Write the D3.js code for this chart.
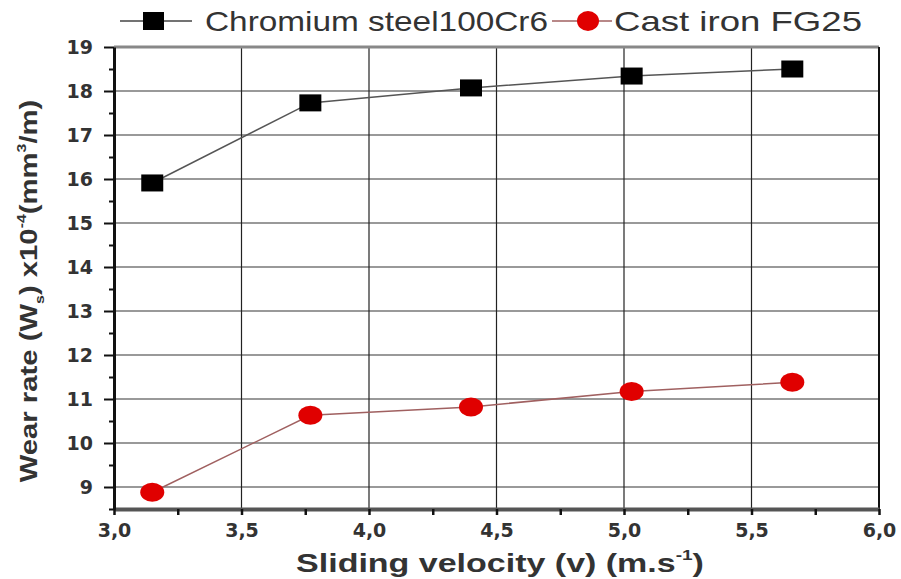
<!DOCTYPE html>
<meta charset="utf-8">
<head>
    <style>
        body {margin: 0; background: #fff;}
        text {font-family: Arial, "Liberation Sans", sans-serif; fill: #333;}
        .tick text {font-family: "DejaVu Sans", sans-serif; font-weight: bold; font-size: 19px; fill: #333;}
    </style>
    <script src="https://d3js.org/d3.v7.min.js"></script>
</head>
<body>
<script>

    var velocity = [3.15, 3.77, 4.40, 5.03, 5.66],
        chromium = [15.91, 17.73, 18.07, 18.34, 18.5],
        castIron = [8.88, 10.63, 10.82, 11.17, 11.38],
        xTicks = [3.0, 3.5, 4.0, 4.5, 5.0, 5.5, 6.0],
        yTicks = [9, 10, 11, 12, 13, 14, 15, 16, 17, 18, 19],
        seriesNames = ["Chromium steel100Cr6", "Cast iron FG25"];

    var margin = {top: 47, right: 22, bottom: 70, left: 114},
        width = 901 - margin.left - margin.right,
        height = 579 - margin.top - margin.bottom;

    var x = d3.scaleLinear().domain([3, 6]).range([0, width]);
    var y = d3.scaleLinear().domain([8.5, 19]).range([height, 0]);

    var root = d3.select("body").append("svg")
        .attr("width", 901)
        .attr("height", 579);

    var svg = root.append("g")
        .attr("transform", "translate(" + margin.left + "," + margin.top + ")");

    // grid
    svg.append("g")
        .selectAll("line").data(yTicks)
      .enter().append("line")
        .attr("x1", 0).attr("x2", width)
        .attr("y1", function(d) {return y(d)}).attr("y2", function(d) {return y(d)})
        .attr("stroke", "#999").attr("stroke-width", 1.8);

    svg.append("g")
        .selectAll("line").data(xTicks.slice(1, -1))
      .enter().append("line")
        .attr("y1", 0).attr("y2", height)
        .attr("x1", function(d) {return x(d)}).attr("x2", function(d) {return x(d)})
        .attr("stroke", "#222").attr("stroke-width", 1.2);

    // frame top/right
    svg.append("line").attr("x1", 0).attr("x2", width).attr("y1", 0).attr("y2", 0)
        .attr("stroke", "#888").attr("stroke-width", 3);
    svg.append("line").attr("x1", width).attr("x2", width).attr("y1", 0).attr("y2", height)
        .attr("stroke", "#111").attr("stroke-width", 2);

    // axes
    var fmt = function(d) {return d3.format(".1f")(d).replace(".", ",")};

    svg.append("g")
        .attr("transform", "translate(0," + height + ")")
        .call(d3.axisBottom(x).tickValues(d3.range(3, 6.01, 0.25)).tickSize(0).tickFormat(""))
        .call(function(g) {
            g.select(".domain").attr("stroke", "#555").attr("stroke-width", 4);
            g.selectAll(".tick line").attr("y2", 6)
                .attr("stroke", "#111").attr("stroke-width", 2.5);
        });
    svg.append("g")
        .attr("transform", "translate(0," + height + ")")
        .call(d3.axisBottom(x).tickValues(xTicks).tickSize(0).tickPadding(15).tickFormat(fmt))
        .call(function(g) {g.select(".domain").remove()});

    svg.append("g")
        .call(d3.axisLeft(y).tickValues(d3.range(8.5, 19.01, 0.5)).tickSize(0).tickFormat(""))
        .call(function(g) {
            g.select(".domain").attr("stroke", "#111").attr("stroke-width", 3);
            g.selectAll(".tick line").attr("x2", function(d) {return d % 1 == 0 ? -10 : -5})
                .attr("stroke", "#111").attr("stroke-width", 2);
        });
    svg.append("g")
        .call(d3.axisLeft(y).tickValues(yTicks).tickSize(0).tickPadding(21))
        .call(function(g) {g.select(".domain").remove()});

    // lines
    var line = d3.line()
        .x(function(d) {return x(d[0])})
        .y(function(d) {return y(d[1])});

    var chromPts = d3.zip(velocity, chromium),
        castPts = d3.zip(velocity, castIron);

    svg.append("path").datum(chromPts)
        .attr("d", line).attr("fill", "none").attr("stroke", "#555").attr("stroke-width", 1.5);
    svg.append("path").datum(castPts)
        .attr("d", line).attr("fill", "none").attr("stroke", "#a06060").attr("stroke-width", 1.5);

    svg.selectAll(".sq").data(chromPts)
      .enter().append("rect").attr("class", "sq")
        .attr("x", function(d) {return x(d[0]) - 11})
        .attr("y", function(d) {return y(d[1]) - 8.5})
        .attr("width", 22).attr("height", 17)
        .attr("fill", "#000");

    svg.selectAll(".ci").data(castPts)
      .enter().append("ellipse").attr("class", "ci")
        .attr("cx", function(d) {return x(d[0])})
        .attr("cy", function(d) {return y(d[1])})
        .attr("rx", 12).attr("ry", 9.5)
        .attr("fill", "#e00000");

    // axis titles
    root.append("text")
        .attr("transform", "translate(500,572) scale(1.36,1)")
        .attr("text-anchor", "middle")
        .style("font-weight", "bold").style("font-size", "25px")
        .html('Sliding velocity (v) (m.s<tspan font-size="14px" dy="-12">-1</tspan><tspan dy="12">)</tspan>');

    root.append("text")
        .attr("transform", "translate(37,291) rotate(-90) scale(1.22,1)")
        .attr("text-anchor", "middle")
        .style("font-weight", "bold").style("font-size", "24px")
        .html('Wear rate  (W<tspan font-size="13px" dy="7">s</tspan><tspan dy="-7">) x10</tspan>' +
              '<tspan font-size="13px" dy="-11">-4</tspan><tspan dy="11">(mm</tspan>' +
              '<tspan font-size="13px" dy="-11">3</tspan><tspan dy="11">/m)</tspan>');

    // legend
    var leg = root.append("g").attr("transform", "translate(0,21)");
    leg.append("line").attr("x1", 120).attr("x2", 192).attr("stroke", "#444").attr("stroke-width", 1.5);
    leg.append("rect").attr("x", 143).attr("y", -9).attr("width", 21).attr("height", 18).attr("fill", "#000");
    leg.append("text").attr("x", 205).attr("y", 10)
        .attr("textLength", 343).attr("lengthAdjust", "spacingAndGlyphs")
        .style("font-size", "28px").text(seriesNames[0]);
    leg.append("line").attr("x1", 552).attr("x2", 612).attr("stroke", "#a06060").attr("stroke-width", 1.5);
    leg.append("ellipse").attr("cx", 588).attr("cy", 0).attr("rx", 11).attr("ry", 10).attr("fill", "#e00000");
    leg.append("text").attr("x", 614).attr("y", 10)
        .attr("textLength", 248).attr("lengthAdjust", "spacingAndGlyphs")
        .style("font-size", "28px").text(seriesNames[1]);

</script>
</body>
